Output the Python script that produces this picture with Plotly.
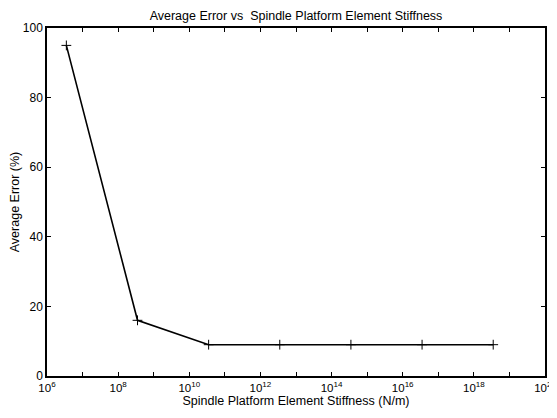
import plotly.graph_objects as go

stiffness = [3.5e6, 3.5e8, 3.5e10, 3.5e12, 3.5e14, 3.5e16, 3.5e18]
avg_error = [95, 16, 9, 9, 9, 9, 9]

x_exps = list(range(6, 21))
x_tickvals = [10.0 ** e for e in x_exps]
x_ticktext = [f"10<sup>{e}</sup>" if e % 2 == 0 else "" for e in x_exps]
y_tickvals = [0, 20, 40, 60, 80, 100]

font = dict(family="Liberation Sans, Arial, sans-serif", color="black", size=12)

fig = go.Figure()
fig.add_trace(go.Scatter(
    x=stiffness, y=avg_error, mode="lines+markers",
    line=dict(color="black", width=1.6),
    marker=dict(symbol="cross-thin", size=7, line=dict(color="black", width=1)),
    showlegend=False,
))

# page body has an 8px default margin; figure size/margins compensate for it
fig.update_layout(
    template="none",
    width=549, height=410,
    margin=dict(l=39, r=12, t=20, b=42),
    paper_bgcolor="white", plot_bgcolor="white",
    font=font,
    title=dict(text="Average Error vs  Spindle Platform Element Stiffness",
               x=0.5, xref="paper", xanchor="center", y=1, yref="paper", yanchor="bottom",
               pad=dict(b=8), font=dict(size=12.5)),
    xaxis=dict(type="log", range=[6, 20], tickvals=x_tickvals, ticktext=x_ticktext,
               automargin=False, tickfont=dict(size=11.5),
               ticks="inside", ticklen=4, tickcolor="black", tickwidth=1, showgrid=False,
               zeroline=False, showline=True, linecolor="black", linewidth=1.5,
               mirror="ticks",
               title=dict(text="Spindle Platform Element Stiffness (N/m)", standoff=3,
                          font=dict(size=12.5))),
    yaxis=dict(range=[0, 100], tickvals=y_tickvals, ticks="inside", ticklen=4,
               automargin=False,
               tickcolor="black", tickwidth=1, showgrid=False, zeroline=False, showline=True,
               linecolor="black", linewidth=1.5, mirror="ticks",
               title=dict(text="Average Error (%)", standoff=4, font=dict(size=12.5))),
)

fig.write_html("out.html")
